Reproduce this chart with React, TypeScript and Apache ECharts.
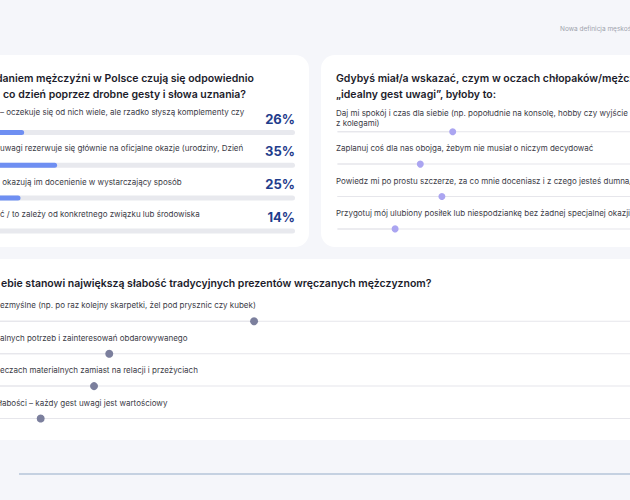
import * as echarts from 'echarts'
import { useEffect, useRef } from 'react'

// Pytanie 1 – paski procentowe (lewa karta)
const q1Title = ['daniem mężczyźni w Polsce czują się odpowiednio', 'co dzień poprzez drobne gesty i słowa uznania?']
const q1Labels = [
	'– oczekuje się od nich wiele, ale rzadko słyszą komplementy czy',
	'uwagi rezerwuje się głównie na oficjalne okazje (urodziny, Dzień',
	' okazują im docenienie w wystarczający sposób',
	'ć / to zależy od konkretnego związku lub środowiska',
]
const q1Values = [26, 35, 25, 14]

// Pytanie 2 – „idealny gest uwagi” (prawa karta)
const q2Title = ['Gdybyś miał/a wskazać, czym w oczach chłopaków/mężczyzn jest', '„idealny gest uwagi”, byłoby to:']
const q2Labels = [
	'Daj mi spokój i czas dla siebie (np. popołudnie na konsolę, hobby czy wyjście\nz kolegami)',
	'Zaplanuj coś dla nas obojga, żebym nie musiał o niczym decydować',
	'Powiedz mi po prostu szczerze, za co mnie doceniasz i z czego jesteś dumna/dumny',
	'Przygotuj mój ulubiony posiłek lub niespodziankę bez żadnej specjalnej okazji',
]
const q2Values = [32, 23, 29, 16]

// Pytanie 3 – słabość tradycyjnych prezentów (dolna karta)
const q3Title = 'ebie stanowi największą słabość tradycyjnych prezentów wręczanych mężczyznom?'
const q3Labels = [
	'ezmyślne (np. po raz kolejny skarpetki, żel pod prysznic czy kubek)',
	'alnych potrzeb i zainteresowań obdarowywanego',
	'eczach materialnych zamiast na relacji i przeżyciach',
	'łabości – każdy gest uwagi jest wartościowy',
]
const q3Values = [42, 23, 21, 14]

const headerText = 'Nowa definicja męskości'

const FONT = 'Inter, "Noto Sans", sans-serif'
const TITLE = '#1c1c2b'
const LABEL = '#3b3b46'

function text(str: string, x: number, y: number, size: number, weight: number | string, fill: string, lineHeight?: number) {
	return {
		type: 'text',
		x,
		y,
		z: 100,
		silent: true,
		style: {
			text: str,
			fontSize: size,
			fontWeight: weight,
			fontFamily: FONT,
			fill,
			align: 'left',
			verticalAlign: 'middle',
			lineHeight: lineHeight ?? size * 1.3,
		},
	}
}

function card(x: number, y: number, w: number, h: number) {
	return { type: 'rect', z: 0, silent: true, shape: { x, y, width: w, height: h, r: 14 }, style: { fill: '#ffffff' } }
}

function App() {
	const chartRef = useRef<HTMLDivElement>(null)

	useEffect(() => {
		const chart = echarts.init(chartRef.current, null, { renderer: 'svg' })

		const q1TextY = [112.3, 147.7, 182.3, 214.3]
		const q2TextY = [118, 148.3, 180.5, 213.3]
		const q3TextY = [305, 337.7, 370, 402.7]

		const graphic: any[] = [
			card(-90, 55, 399, 192),
			card(321, 55, 400, 192),
			card(-90, 259, 810, 181),
			text(headerText, 560, 29, 6.5, 400, '#9ea3ad'),
			{
				type: 'line',
				z: 1,
				silent: true,
				shape: { x1: 19, y1: 474, x2: 640, y2: 474 },
				style: { stroke: '#b4c4d8', lineWidth: 1.5 },
			},
			text(q1Title[0], -4, 78.3, 10.5, 600, TITLE),
			text(q1Title[1], 3, 94, 10.5, 600, TITLE),
			text(q2Title[0], 336, 78.3, 10.5, 600, TITLE),
			text(q2Title[1], 336, 94, 10.5, 600, TITLE),
			text(q3Title, 1, 283.3, 10.5, 600, TITLE),
			...q1Labels.map((l, i) => text(l, 0, q1TextY[i], 8, 400, LABEL)),
			...q2Labels.map((l, i) => text(l, 336, q2TextY[i], 8, 400, LABEL, 10.6)),
			...q3Labels.map((l, i) => text(l, 0, q3TextY[i], 8, 400, LABEL)),
		]

		const idx = (arr: unknown[]) => arr.map((_, i) => String(i))

		const option = {
			animation: false,
			backgroundColor: '#f5f6fa',
			textStyle: { fontFamily: FONT },
			grid: [
				{ left: -71, width: 366, top: 116.1, height: 131.2, outerBoundsMode: 'none' },
				{ left: 337.5, width: 360, top: 115.5, height: 129.6, outerBoundsMode: 'none' },
				{ left: -66, width: 762, top: 305.1, height: 129.6, outerBoundsMode: 'none' },
			],
			xAxis: [0, 1, 2].map((g) => ({ type: 'value', gridIndex: g, min: 0, max: 100, show: false })),
			yAxis: [
				{ type: 'category', gridIndex: 0, data: idx(q1Values), inverse: true, show: false },
				{ type: 'category', gridIndex: 1, data: idx(q2Values), inverse: true, show: false },
				{ type: 'category', gridIndex: 2, data: idx(q3Values), inverse: true, show: false },
			],
			graphic,
			series: [
				{
					name: 'track',
					type: 'bar',
					xAxisIndex: 0,
					yAxisIndex: 0,
					silent: true,
					data: q1Values.map(() => 100),
					barWidth: 5,
					itemStyle: { color: '#e8e9ee', borderRadius: 3 },
					label: {
						show: true,
						position: ['100%', -11.5],
						align: 'right',
						verticalAlign: 'middle',
						formatter: (p: any) => `${q1Values[p.dataIndex]}%`,
						fontSize: 13,
						fontWeight: 700,
						fontFamily: FONT,
						color: '#1f3d8c',
					},
				},
				{
					name: 'q1',
					type: 'bar',
					xAxisIndex: 0,
					yAxisIndex: 0,
					data: q1Values,
					barWidth: 5,
					barGap: '-100%',
					itemStyle: { color: '#6f8ff2', borderRadius: 3 },
				},
				{
					name: 'q2line',
					type: 'bar',
					xAxisIndex: 1,
					yAxisIndex: 1,
					silent: true,
					data: q2Values,
					barWidth: 1,
					itemStyle: { color: '#e6e6eb' },
					showBackground: true,
					backgroundStyle: { color: '#e6e6eb' },
				},
				{
					name: 'q2',
					type: 'scatter',
					xAxisIndex: 1,
					yAxisIndex: 1,
					data: q2Values.map((v, i) => [v, i]),
					symbolSize: 7,
					itemStyle: { color: '#aba5f1', opacity: 1 },
					z: 5,
				},
				{
					name: 'q3line',
					type: 'bar',
					xAxisIndex: 2,
					yAxisIndex: 2,
					silent: true,
					data: q3Values,
					barWidth: 1,
					itemStyle: { color: '#e6e6eb' },
					showBackground: true,
					backgroundStyle: { color: '#e6e6eb' },
				},
				{
					name: 'q3',
					type: 'scatter',
					xAxisIndex: 2,
					yAxisIndex: 2,
					data: q3Values.map((v, i) => [v, i]),
					symbolSize: 8,
					itemStyle: { color: '#7b7f9d', opacity: 1 },
					z: 5,
				},
			],
		}

		chart.setOption(option as any)

		return () => {
			chart.dispose()
		}
	}, [])

	return <div ref={chartRef} style={{ position: 'fixed', left: 0, top: 0, width: '630px', height: '500px' }} />
}

export default App
